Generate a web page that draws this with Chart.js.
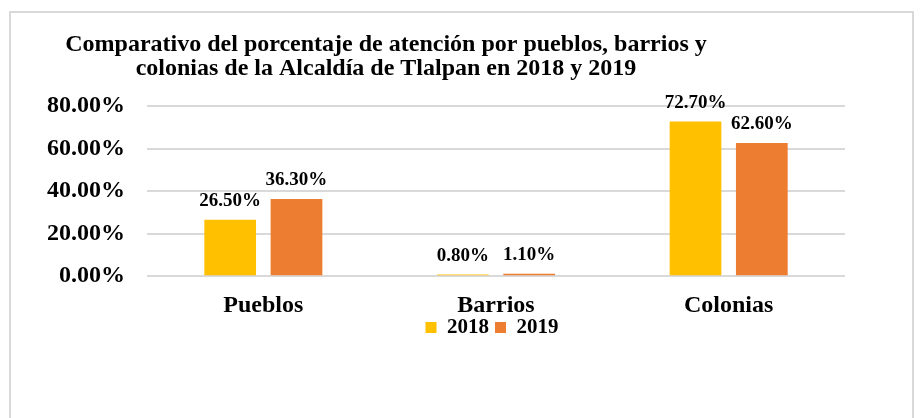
<!DOCTYPE html>
<html>
<head>
<meta charset="utf-8">
<script src="https://cdn.jsdelivr.net/npm/chart.js@4.4.1/dist/chart.umd.min.js"></script>
<style>
  html, body { margin: 0; padding: 0; background: #fff; }
  #wrap { position: relative; width: 922px; height: 418px; overflow: hidden; }
  #frame {
    position: absolute; left: 9px; top: 11px; width: 905px; height: 420px;
    border: 2px solid #d9d9d9; box-sizing: border-box;
  }
  canvas { position: absolute; left: 0; top: 0; }
</style>
</head>
<body>
<div id="wrap">
  <div id="frame"></div>
  <canvas id="chart" width="922" height="418"></canvas>
</div>
<script>
// Chart data
const categories = ['Pueblos', 'Barrios', 'Colonias'];
const seriesNames = ['2018', '2019'];
const values2018 = [26.5, 0.8, 72.7];
const values2019 = [36.3, 1.1, 62.6];
const yTicks = [0, 20, 40, 60, 80];
const titleLines = [
    'Comparativo del porcentaje de atención por pueblos, barrios y',
    'colonias de la Alcaldía de Tlalpan en 2018 y 2019'
];

const serif = '"Liberation Serif", "Times New Roman", serif';

// draws the two-line title, centred a bit left of the canvas like the original
const titlePlugin = {
    id: 'titleLines',
    afterDraw(chart) {
        const c = chart.ctx;
        c.save();
        c.fillStyle = '#000';
        c.font = 'bold 24px ' + serif;
        c.textAlign = 'center';
        c.textBaseline = 'middle';
        c.fillText(titleLines[0], 386, 45);
        c.fillText(titleLines[1], 386, 69);
        c.restore();
    }
};

// legend in the original sits centred under the plot area and tucked
// close to the category labels
const legendShift = {
    id: 'legendShift',
    afterLayout(chart) {
        const area = chart.chartArea;
        const lg = chart.legend;
        const dx = (area.left + area.right) / 2 - (lg.left + lg.right) / 2 - 4;
        const dy = -16;
        lg.left += dx;
        lg.right += dx;
        lg.top += dy;
        lg.bottom += dy;
    }
};

// value labels above each bar
const valueLabels = {
    id: 'valueLabels',
    afterDatasetsDraw(chart) {
        const c = chart.ctx;
        c.save();
        c.fillStyle = '#000';
        c.font = 'bold 19px ' + serif;
        c.textAlign = 'center';
        c.textBaseline = 'bottom';
        chart.data.datasets.forEach((ds, i) => {
            chart.getDatasetMeta(i).data.forEach((bar, j) => {
                c.fillText(ds.data[j].toFixed(2) + '%', bar.x, bar.y - 9);
            });
        });
        c.restore();
    }
};

new Chart(document.getElementById('chart'), {
    type: 'bar',
    data: {
        labels: categories,
        datasets: [
            { label: seriesNames[0], data: values2018, backgroundColor: '#FFC000' },
            { label: seriesNames[1], data: values2019, backgroundColor: '#ED7D31' }
        ]
    },
    options: {
        responsive: false,
        animation: false,
        devicePixelRatio: 1,
        categoryPercentage: 0.57,
        barPercentage: 0.78,
        layout: { padding: { top: 106, right: 77, bottom: 54, left: 0 } },
        plugins: {
            title: { display: false },
            tooltip: { enabled: false },
            legend: {
                position: 'bottom',
                labels: {
                    color: '#000',
                    font: { family: serif, size: 21, weight: 'bold' },
                    boxWidth: 11,
                    boxHeight: 11,
                    padding: 6
                }
            }
        },
        scales: {
            x: {
                grid: { display: false },
                border: { display: false },
                ticks: {
                    color: '#000',
                    padding: 7,
                    font: { family: serif, size: 24, weight: 'bold' }
                }
            },
            y: {
                min: 0,
                max: 80,
                afterFit(scale) { scale.width = 147; },
                afterBuildTicks(scale) { scale.ticks = yTicks.map(v => ({ value: v })); },
                grid: { color: '#d9d9d9', lineWidth: 2, drawTicks: false },
                border: { display: false },
                ticks: {
                    color: '#000',
                    padding: 22,
                    font: { family: serif, size: 24, weight: 'bold' },
                    callback: v => v.toFixed(2) + '%'
                }
            }
        }
    },
    plugins: [titlePlugin, legendShift, valueLabels]
});
</script>
</body>
</html>
